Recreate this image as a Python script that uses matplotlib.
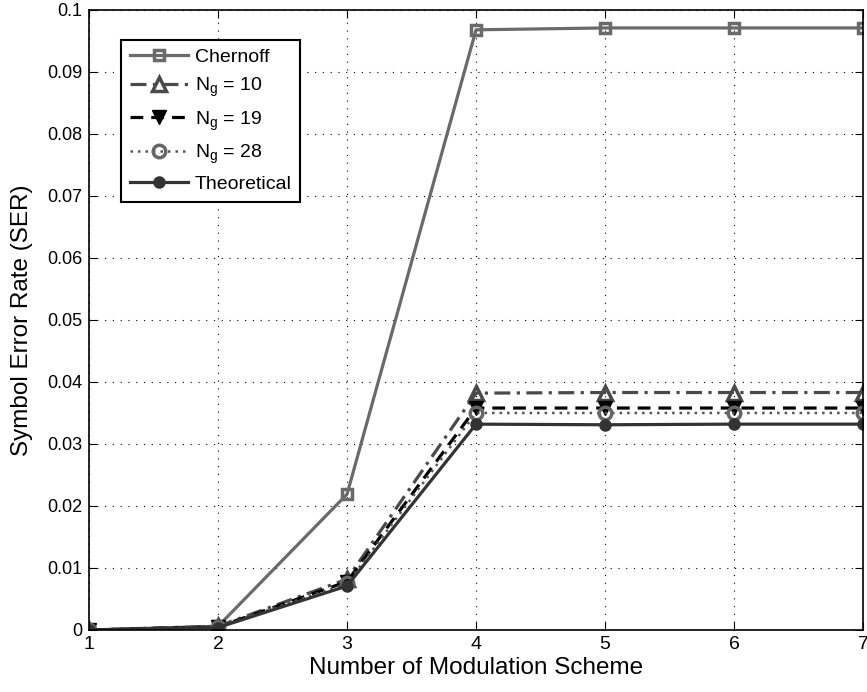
import matplotlib
matplotlib.use("Agg")
import matplotlib.pyplot as plt

plt.rcParams["font.family"] = ["Liberation Sans", "DejaVu Sans"]
plt.rcParams["mathtext.fontset"] = "custom"
plt.rcParams["mathtext.rm"] = "Liberation Sans"

schemes = [1, 2, 3, 4, 5, 6, 7]
ser_chernoff = [0.0, 0.0006, 0.0219, 0.0968, 0.0971, 0.0971, 0.0971]
ser_ng10 = [0.0, 0.0006, 0.0082, 0.0382, 0.0383, 0.0383, 0.0383]
ser_ng19 = [0.0, 0.0005, 0.0078, 0.0358, 0.0358, 0.0358, 0.0358]
ser_ng28 = [0.0, 0.0005, 0.0075, 0.0350, 0.0350, 0.0350, 0.0350]
ser_theory = [0.0, 0.0004, 0.0071, 0.0332, 0.0331, 0.0332, 0.0332]

fig = plt.figure(figsize=(8.67, 6.92), dpi=100)
ax = fig.add_axes([0.1027, 0.0896, 0.8927, 0.896])

ax.plot(schemes, ser_chernoff, color="#6a6a6a", lw=2.3, marker="s", ms=7,
        mfc="none", mec="#6a6a6a", mew=2.5, label="Chernoff")
ax.plot(schemes, ser_ng10, color="#4a4a4a", lw=2.3, ls=(0, (5, 2, 1, 2)), marker="^", ms=10,
        mfc="none", mec="#4a4a4a", mew=2.5, label=r"N$_\mathrm{g}$ = 10")
ax.plot(schemes, ser_ng19, color="black", lw=2.3, ls=(0, (4, 2.5)), marker="v", ms=10,
        mfc="black", mec="black", label=r"N$_\mathrm{g}$ = 19")
ax.plot(schemes, ser_ng28, color="#555555", lw=1.8, ls=(0, (1, 2)), marker="o", ms=9,
        mfc="none", mec="#666666", mew=2.5, label=r"N$_\mathrm{g}$ = 28")
ax.plot(schemes, ser_theory, color="#333333", lw=2.3, marker="o", ms=8,
        mfc="#333333", mec="#333333", label="Theoretical")

ax.set_xlim(1, 7)
ax.set_ylim(0, 0.1)
ax.set_xticks(schemes)
ax.set_yticks([i / 100 for i in range(11)])
ax.set_yticklabels(["0"] + [f"{i/100:g}" for i in range(1, 11)])
ax.grid(True, ls=(0, (1, 6)), color="black", lw=0.8)
ax.tick_params(labelsize=13, direction="in", length=6, top=True, right=True)
ax.tick_params(axis="x", pad=4, labelsize=14)
ax.tick_params(axis="y", pad=5)
for s in ax.spines.values():
    s.set_linewidth(1.2)
ax.set_xlabel("Number of Modulation Scheme", fontsize=17.5, labelpad=3)
ax.set_ylabel("Symbol Error Rate (SER)", fontsize=17.5, labelpad=10)

leg = ax.legend(loc="upper left", bbox_to_anchor=(0.041, 0.952), fontsize=14,
                frameon=True, fancybox=False, edgecolor="black", framealpha=1,
                handlelength=3.0, handletextpad=0.35, labelspacing=0.5,
                borderpad=0.45, borderaxespad=0)
leg.get_frame().set_linewidth(1.5)

fig.savefig("out.png", dpi=100)
